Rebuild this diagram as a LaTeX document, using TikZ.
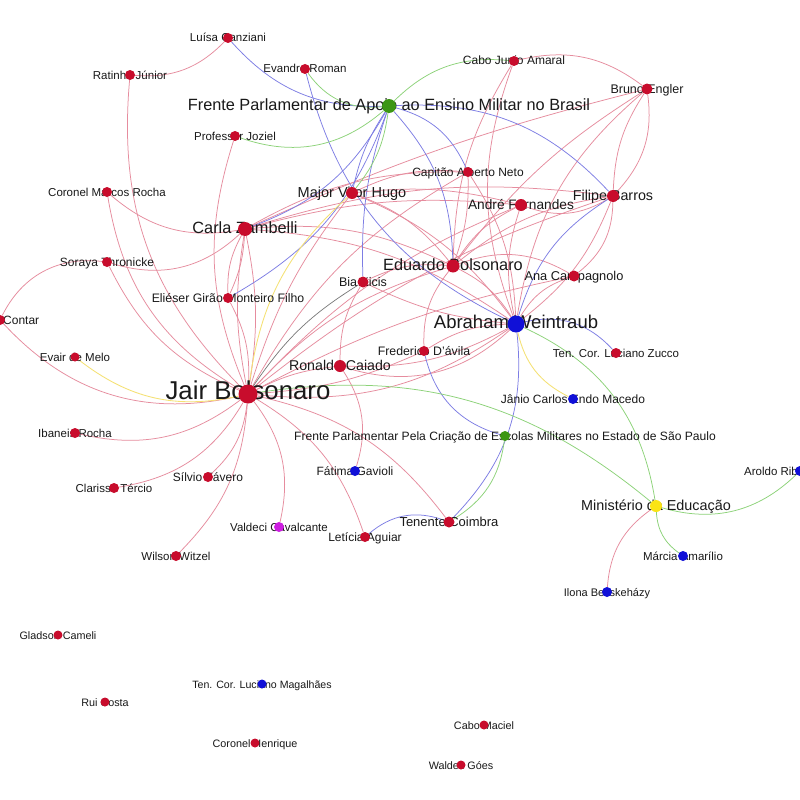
\documentclass[tikz,border=0pt]{standalone}
\usepackage{fontspec}
\setmainfont{Liberation Sans}
\pgfdeclarelayer{bglayer}
\pgfdeclarelayer{edgelayer}
\pgfdeclarelayer{labellayer}
\pgfsetlayers{bglayer,edgelayer,labellayer,main}
\definecolor{nred}{RGB}{200,12,44}
\definecolor{nblue}{RGB}{16,16,215}
\definecolor{ngreen}{RGB}{60,150,20}
\definecolor{nyel}{RGB}{250,228,20}
\definecolor{nmag}{RGB}{205,30,225}
\definecolor{ered}{RGB}{230,140,158}
\definecolor{eblue}{RGB}{125,125,228}
\definecolor{egreen}{RGB}{140,210,120}
\definecolor{eyel}{RGB}{245,225,115}
\definecolor{egray}{RGB}{120,120,120}
\newcommand\mkgnode[6]{%
  \node[#4] (#1) at (#2,-#3) {};
  \begin{pgfonlayer}{labellayer}
    \node[lbl,font=\fontsize{#5}{#5}\selectfont] (#1-l) at ([yshift=-4pt]#1.center) {#6};
  \end{pgfonlayer}}
\begin{document}
\begin{tikzpicture}[x=1pt,y=1pt,
  dotbase/.style={circle,inner sep=0pt,minimum size=10pt},
  rd/.style={dotbase,fill=nred},
  bd/.style={dotbase,fill=nblue},
  gd/.style={dotbase,fill=ngreen},
  yd/.style={dotbase,fill=nyel},
  md/.style={dotbase,fill=nmag},
  lbl/.style={anchor=base,inner sep=0pt,text=black!90},
  er/.style={draw=ered,line width=0.75pt},
  eb/.style={draw=eblue,line width=0.75pt},
  eg/.style={draw=egreen,line width=0.75pt},
  ey/.style={draw=eyel,line width=0.85pt},
  ek/.style={draw=egray,line width=0.7pt}]
\begin{pgfonlayer}{bglayer}
\fill[white] (0,0) rectangle (800,-800);
\end{pgfonlayer}
\useasboundingbox (0,0) rectangle (800,-800);

\mkgnode{lc}{228}{38}{rd}{11.5}{Luísa Canziani}
\mkgnode{rj}{130}{75}{rd}{11.5}{Ratinho Júnior}
\mkgnode{erm}{305}{69}{rd}{11.5}{Evandro Roman}
\mkgnode{cj}{514}{61}{rd}{12}{Cabo Junio Amaral}
\mkgnode{be}{647}{89}{rd,minimum size=11pt}{12.5}{Bruno Engler}
\mkgnode{fa}{389}{106}{gd,minimum size=14pt}{16.3}{Frente Parlamentar de Apoio ao Ensino Militar no Brasil}
\mkgnode{pj}{235}{136}{rd}{11.5}{Professor Joziel}
\mkgnode{ca}{468}{172}{rd}{12}{Capitão Alberto Neto}
\mkgnode{mr}{107}{192}{rd}{11.5}{Coronel Marcos Rocha}
\mkgnode{vh}{352}{193}{rd,minimum size=12pt}{14.5}{Major Vitor Hugo}
\mkgnode{fb}{613}{196}{rd,minimum size=12pt}{14.3}{Filipe Barros}
\mkgnode{af}{521}{205}{rd,minimum size=12pt}{13.7}{André Fernandes}
\mkgnode{cz}{245}{229}{rd,minimum size=14pt}{16.3}{Carla Zambelli}
\mkgnode{st}{107}{262}{rd}{12}{Soraya Thronicke}
\mkgnode{ebo}{453}{266}{rd,minimum size=13pt}{16.3}{Eduardo Bolsonaro}
\mkgnode{ac}{574}{276}{rd,minimum size=11pt}{12.8}{Ana Campagnolo}
\mkgnode{bk}{363}{282}{rd,minimum size=11pt}{12.5}{Bia Kicis}
\mkgnode{eeg}{228}{298}{rd}{12.3}{Eliéser Girão Monteiro Filho}
\node[rd] (co) at (0,-320) {};
\begin{pgfonlayer}{labellayer}
\node[lbl,anchor=base west,font=\fontsize{12}{12}\selectfont] (co-l) at ([yshift=-4pt,xshift=3pt]co.center) {Contar};
\end{pgfonlayer}
\mkgnode{aw}{516}{324}{bd,minimum size=17pt}{18.5}{Abraham Weintraub}
\mkgnode{em}{75}{357}{rd,minimum size=9pt}{11.5}{Evair de Melo}
\mkgnode{fd}{424}{351}{rd}{12.3}{Frederico D'ávila}
\mkgnode{rc}{340}{366}{rd,minimum size=12pt}{14.2}{Ronaldo Caiado}
\node[rd,minimum size=19pt] (jb) at (248,-394) {};
\begin{pgfonlayer}{labellayer}
\node[lbl,font=\fontsize{25.8}{26}\selectfont] (jb-l) at ([yshift=-5pt]jb.center) {Jair Bolsonaro};
\end{pgfonlayer}
\mkgnode{lz}{616}{353}{rd}{11.5}{Ten. Cor. Luciano Zucco}
\mkgnode{jm}{573}{399}{bd}{12}{Jânio Carlos Endo Macedo}
\mkgnode{fs}{505}{436}{gd}{12.1}{Frente Parlamentar Pela Criação de Escolas Militares no Estado de São Paulo}
\mkgnode{ir}{75}{433}{rd}{11.5}{Ibaneis Rocha}
\mkgnode{fg}{355}{471}{bd}{12}{Fátima Gavioli}
\mkgnode{sf}{208}{477}{rd}{12}{Sílvio Fávero}
\mkgnode{ct}{114}{488}{rd}{11.5}{Clarissa Tércio}
\node[bd] (ar) at (800,-471) {};
\begin{pgfonlayer}{labellayer}
\node[lbl,anchor=base west,font=\fontsize{11.5}{12}\selectfont] (ar-l) at (744,-475) {Aroldo Rib};
\end{pgfonlayer}
\mkgnode{me}{656}{506}{yd,minimum size=12pt}{14.4}{Ministério da Educação}
\mkgnode{tc}{449}{522}{rd,minimum size=11pt}{13}{Tenente Coimbra}
\mkgnode{vc}{279}{527}{md}{11.5}{Valdeci Cavalcante}
\mkgnode{la}{365}{537}{rd}{12}{Letícia Aguiar}
\mkgnode{ma}{683}{556}{bd}{11.5}{Márcia Amarílio}
\mkgnode{ww}{176}{556}{rd}{11.5}{Wilson Witzel}
\mkgnode{ib}{607}{592}{bd}{11}{Ilona Becskeházy}
\mkgnode{gc}{58}{635}{rd,minimum size=9pt}{10.8}{Gladson Cameli}
\mkgnode{lm}{262}{684}{bd,minimum size=9pt}{10.6}{Ten. Cor. Luciano Magalhães}
\mkgnode{rco}{105}{702}{rd,minimum size=9pt}{10.8}{Rui Costa}
\mkgnode{cm}{484}{725}{rd,minimum size=9pt}{10.8}{Cabo Maciel}
\mkgnode{ch}{255}{743}{rd,minimum size=9pt}{10.8}{Coronel Henrique}
\mkgnode{wg}{461}{765}{rd,minimum size=9pt}{10.8}{Waldez Góes}

\begin{pgfonlayer}{edgelayer}
% red edges
\path[er] (rj) to[bend right=25] (jb);
\path[er] (lc) to[bend left=25] (rj);
\path[er] (pj) to[bend right=20] (jb);
\path[er] (mr) to[bend right=25] (cz);
\path[er] (mr) to[bend right=25] (jb);
\path[er] (st) to[bend right=30] (cz);
\path[er] (st) to[bend right=20] (jb);
\path[er] (st) to[bend right=35] (co);
\path[er] (co) to[bend right=30] (jb);
\path[er] (ir) to[bend right=25] (jb);
\path[er] (ct) to[bend right=25] (jb);
\path[er] (sf) to[bend right=20] (jb);
\path[er] (ww) to[bend right=20] (jb);
\path[er] (vc) to[bend right=25] (jb);
\path[er] (la) to[bend right=20] (jb);
\path[er] (tc) to[bend right=20] (jb);
\path[er] (rc) to[bend left=25] (fg);
\path[er] (rc) to[bend right=10] (jb);
\path[er] (rc) to[bend left=15] (bk);
\path[er] (rc) to[bend right=15] (aw);
\path[er] (rc) to[bend right=30] (aw);
\path[er] (jb) to[bend right=20] (aw);
\path[er] (eeg) to[bend left=15] (jb);
\path[er] (cz) to[bend right=15] (eeg);
\path[er] (cz) to[bend left=10] (eeg);
\path[er] (cz) to[bend left=10] (jb);
\path[er] (cz) to[bend right=10] (jb);
\path[er] (jb) to[bend left=15] (ebo);
\path[er] (jb) to[bend left=15] (ca);
\path[er] (jb) to[bend left=12] (af);
\path[er] (jb) to[bend left=10] (fb);
\path[er] (jb) to[bend right=10] (fd);
\path[er] (jb) to[bend left=8] (ac);
\path[er] (jb) to[bend left=10] (vh);
\path[er] (cz) to[bend left=15] (ebo);
\path[er] (cz) to[bend left=15] (aw);
\path[er] (cz) to[bend left=15] (ca);
\path[er] (cz) to[bend left=10] (af);
\path[er] (cz) to[bend left=12] (fb);
\path[er] (vh) to[bend left=15] (ebo);
\path[er] (vh) to[bend left=15] (aw);
\path[er] (vh) to[bend left=15] (ca);
\path[er] (vh) to[bend left=10] (af);
\path[er] (ebo) to[bend left=15] (aw);
\path[er] (ebo) to[bend right=10] (ca);
\path[er] (ebo) to[bend left=15] (af);
\path[er] (ebo) to[bend left=15] (fb);
\path[er] (ac) to[bend right=25] (ebo);
\path[er] (ebo) to[bend right=15] (bk);
\path[er] (ebo) to[bend right=20] (fd);
\path[er] (cj) to[bend left=25] (be);
\path[er] (cj) to[bend right=15] (ebo);
\path[er] (cj) to[bend right=20] (aw);
\path[er] (be) to[bend left=25] (fb);
\path[er] (be) to[bend right=15] (fb);
\path[er] (be) to[bend right=20] (aw);
\path[er] (be) to[bend right=10] (ebo);
\path[er] (be) to[bend right=5] (cz);
\path[er] (fb) to[bend left=25] (af);
\path[er] (fb) to[bend left=25] (ac);
\path[er] (fb) to[bend left=15] (aw);
\path[er] (af) to[bend right=15] (aw);
\path[er] (ca) to[bend left=15] (aw);
\path[er] (ac) to[bend right=20] (aw);
\path[er] (fd) to[bend left=15] (aw);
\path[er] (bk) to[bend right=10] (aw);
\path[er] (me) to[bend right=25] (ib);
% blue edges
\path[eb] (lc) to[bend right=25] (fa);
\path[eb] (erm) to[bend right=25] (aw);
\path[eb] (cz) to[bend right=20] (fa);
\path[eb] (eeg) to[bend right=20] (fa);
\path[eb] (vh) to[bend left=10] (fa);
\path[eb] (bk) to[bend left=10] (fa);
\path[eb] (fa) to[bend left=20] (ebo);
\path[eb] (fa) to[bend left=25] (ca);
\path[eb] (fa) to[bend left=25] (fb);
\path[eb] (fb) to[bend right=20] (aw);
\path[eb] (aw) to[bend left=25] (tc);
\path[eb] (fd) to[bend right=30] (fs);
\path[eb] (la) to[bend left=30] (tc);
\path[eb] (aw) to[bend left=30] (lz);
% green edges
\path[eg] (erm) to[bend right=30] (fa);
\path[eg] (pj) to[bend right=30] (fa);
\path[eg] (fa) to[bend left=25] (cj);
\path[eg] (fa) to[bend left=15] (vh);
\path[eg] (jb) to[bend left=24] (me);
\path[eg] (aw) to[bend left=28] (me);
\path[eg] (fs) to[bend left=25] (tc);
\path[eg] (me) to[bend right=30] (ar);
\path[eg] (me) to[bend right=25] (ma);
% yellow edges
\path[ey] (em) to[bend right=25] (jb);
\path[ey] (jb) to[bend left=20] (vh);
\path[ey] (aw) to[bend right=25] (jm);
% gray edge
\path[ek] (bk) to[bend right=12] (jb);
\end{pgfonlayer}
\end{tikzpicture}
\end{document}
